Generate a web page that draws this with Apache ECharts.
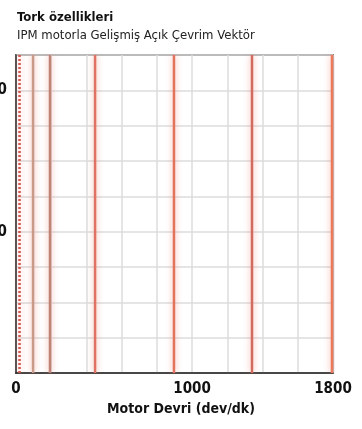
<!DOCTYPE html>
<html>
<head>
<meta charset="utf-8">
<script src="https://cdn.jsdelivr.net/npm/echarts@6/dist/echarts.min.js"></script>
<style>
    html, body { margin: 0; padding: 0; background: #fff; }
    #chart { width: 362px; height: 429px; }
</style>
</head>
<body>
<div id="chart"></div>
<script>
// 数据
const titleText = 'Tork özellikleri';
const subtitleText = 'IPM motorla Gelişmiş Açık Çevrim Vektör';
const xAxisName = 'Motor Devri (dev/dk)';
const xTickLabels = [0, 1000, 1800];
const yTickLabels = [100, 200];
const speedLines = [20, 97, 193, 449, 897, 1340, 1794];
const torqueRange = [0, 225];

// 样式
const lineColors = ['#d4564c', '#c99a88', '#bf8276', '#df7262', '#e4735e', '#d36a5e', '#ee7a5e'];
const fontName = "'Liberation Sans Narrow', 'DejaVu Sans Condensed', sans-serif";

const chart = echarts.init(document.getElementById('chart'));

const series = speedLines.map(function (x, i) {
    return {
        type: 'line',
        data: [[x, torqueRange[0]], [x, torqueRange[1]]],
        symbol: 'none',
        silent: true,
        lineStyle: {
            color: lineColors[i],
            width: 2.5,
            type: i === 0 ? [2, 2] : 'solid',
            shadowColor: 'rgba(235, 120, 100, 0.6)',
            shadowBlur: 6
        }
    };
});

chart.setOption({
    animation: false,
    title: {
        text: titleText,
        subtext: subtitleText,
        left: 12,
        top: 6,
        itemGap: 5,
        textStyle: { fontFamily: fontName, fontWeight: 'bold', fontSize: 13, color: '#111' },
        subtextStyle: { fontFamily: fontName, fontSize: 13, color: '#222' }
    },
    grid: {
        left: 16, right: 29, top: 55, bottom: 56,
        containLabel: false,
        outerBoundsMode: 'none',
        show: true, borderColor: '#222', borderWidth: 1.5
    },
    xAxis: {
        type: 'value',
        min: 0, max: 1800, interval: 200,
        name: xAxisName,
        nameLocation: 'middle',
        nameGap: 26,
        nameTextStyle: { fontFamily: fontName, fontWeight: 'bold', fontSize: 14, color: '#111', padding: [0, 0, 0, 13] },
        axisLine: { show: true, lineStyle: { color: '#222', width: 1.5 } },
        axisTick: { show: false },
        axisLabel: {
            margin: 9,
            fontFamily: fontName, fontWeight: 'bold', fontSize: 15, color: '#111',
            formatter: function (v) { return xTickLabels.indexOf(v) >= 0 ? String(v) : ''; }
        },
        splitLine: { show: true, lineStyle: { color: '#dcdcdc', width: 1.5 } }
    },
    yAxis: {
        type: 'value',
        min: torqueRange[0], max: torqueRange[1], interval: 25,
        axisLine: { show: true, lineStyle: { color: '#333', width: 1.5 } },
        axisTick: { show: false },
        axisLabel: {
            margin: 9,
            fontFamily: fontName, fontWeight: 'bold', fontSize: 15, color: '#111',
            formatter: function (v) { return yTickLabels.indexOf(v) >= 0 ? String(v) : ''; }
        },
        splitLine: { show: true, lineStyle: { color: '#dcdcdc', width: 1.5 } }
    },
    series: series
});
</script>
</body>
</html>
